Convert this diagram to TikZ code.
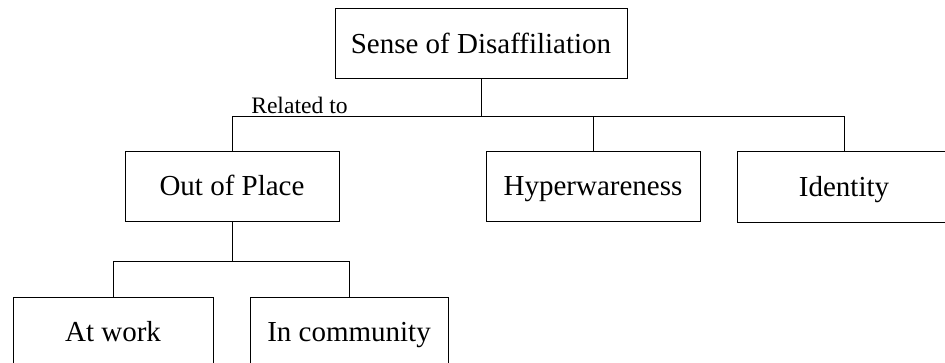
\documentclass[tikz,border=0pt]{standalone}
\usepackage{fontspec}
\setmainfont{Liberation Serif}
\usetikzlibrary{positioning}

\begin{document}
\begin{tikzpicture}[
    x=0.5pt, y=-0.5pt,
    concept/.style={rectangle, draw, line width=0.5pt, align=center, inner sep=0pt, text height=1.05em, text depth=0.13em, minimum width=107pt, minimum height=35pt, font=\fontsize{14.5}{17}\selectfont},
    link/.style={line width=0.5pt},
    tag/.style={inner sep=0pt, font=\fontsize{11.8}{14}\selectfont}
]
    \useasboundingbox (0,0) rectangle (945,363);
    \clip (0,0) rectangle (945,363);

    % Concepts
    \node[concept, minimum width=146pt] (sense) at (481,44) {Sense of Disaffiliation};
    \node[concept] (place) at (232,186.5) {Out of Place};
    \node[concept] (hyper) at (593,186.5) {Hyperwareness};
    \node[concept] (ident) at (844,187) {Identity};

    \node[concept, minimum width=100pt] (work) at (113,332) {At work};
    \node[concept, minimum width=99pt] (comm) at (349,332) {In community};

    % Lines
    \draw[link] (sense.south) -- ++(0,37) -| (place.north);
    \draw[link] (sense.south) -- ++(0,37) -| (hyper.north);
    \draw[link] (sense.south) -- ++(0,37) -| (ident.north);
    \draw[link] (place.south) -- ++(0,39) -| (work.north);
    \draw[link] (place.south) -- ++(0,39) -| (comm.north);

    \node[tag, anchor=base east] (rel) at (348,114) {Related to};

\end{tikzpicture}
\end{document}
